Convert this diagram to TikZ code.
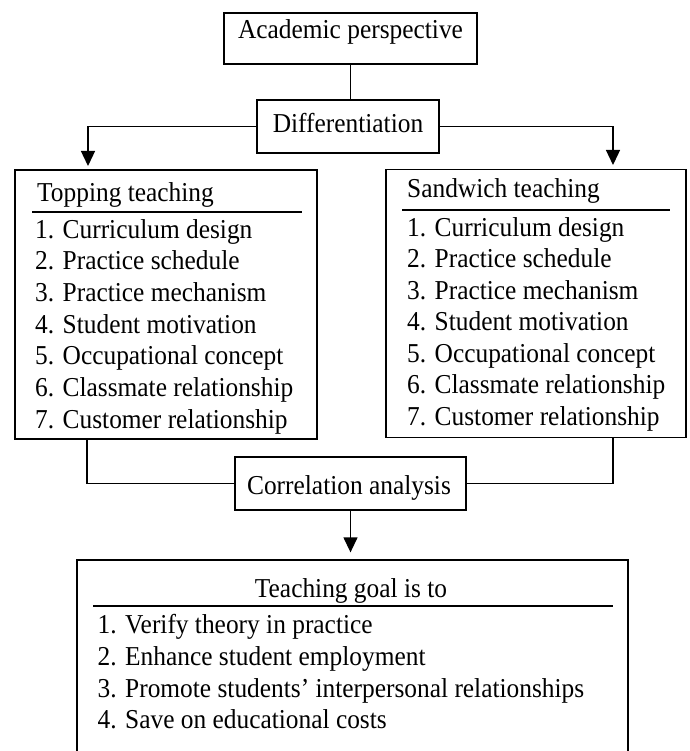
\documentclass[tikz,border=0pt]{standalone}
\usepackage{fontspec}
\setmainfont[FakeStretch=0.93]{Liberation Serif}
\usetikzlibrary{arrows.meta}
\begin{document}
\begin{tikzpicture}[x=1pt,y=-1pt,
  box/.style={draw, line width=1.3pt, rectangle, inner sep=0pt},
  txt/.style={anchor=base west, inner sep=0pt, font=\fontsize{27.3}{32}\selectfont},
  ctxt/.style={anchor=base, inner sep=0pt, font=\fontsize{27.3}{32}\selectfont},
  conn/.style={line width=1.3pt},
  arr/.style={line width=1.3pt, -{Triangle[length=15pt,width=14pt]}},
  rulel/.style={line width=1.3pt}]
\useasboundingbox (0,0) rectangle (689,751);
\clip (0,0) rectangle (689,751);
% boxes
\node[box, minimum width=253pt, minimum height=51pt] (acad) at (350.5,38.5) {};
\node[box, minimum width=182pt, minimum height=53pt] (diff) at (348,126.5) {};
\node[box, minimum width=302pt, minimum height=269pt] (top) at (166,304.5) {};
\node[box, minimum width=300pt, minimum height=268pt] (sand) at (536,303.5) {};
\node[box, minimum width=231pt, minimum height=53pt] (corr) at (350.5,483.5) {};
\node[box, minimum width=551pt, minimum height=210pt] (goal) at (352.5,665) {};
% box texts
\node[ctxt] (acadT) at (350.5,39) {Academic perspective};
\node[ctxt] (diffT) at (348,133) {Differentiation};
\node[ctxt] (corrT) at (349,494) {Correlation analysis};
% topping
\node[txt] (topT) at (37,201) {Topping teaching};
\coordinate (topUa) at (32,212); \coordinate (topUb) at (302,212);
\draw[rulel] (topUa) -- (topUb);
\node[txt] (t1) at (35,238) {1. Curriculum design};
\node[txt] (t2) at (35,269.7) {2. Practice schedule};
\node[txt] (t3) at (35,301.3) {3. Practice mechanism};
\node[txt] (t4) at (35,333) {4. Student motivation};
\node[txt] (t5) at (35,364.7) {5. Occupational concept};
\node[txt] (t6) at (35,396.3) {6. Classmate relationship};
\node[txt] (t7) at (35,428) {7. Customer relationship};
% sandwich
\node[txt] (sandT) at (407,198) {Sandwich teaching};
\coordinate (sandUa) at (402,210); \coordinate (sandUb) at (670,210);
\draw[rulel] (sandUa) -- (sandUb);
\node[txt] (s1) at (407,236) {1. Curriculum design};
\node[txt] (s2) at (407,267.5) {2. Practice schedule};
\node[txt] (s3) at (407,299) {3. Practice mechanism};
\node[txt] (s4) at (407,330.5) {4. Student motivation};
\node[txt] (s5) at (407,362) {5. Occupational concept};
\node[txt] (s6) at (407,393.5) {6. Classmate relationship};
\node[txt] (s7) at (407,425) {7. Customer relationship};
% goal
\node[ctxt] (goalT) at (351,597) {Teaching goal is to};
\coordinate (goalUa) at (93,606); \coordinate (goalUb) at (613,606);
\draw[rulel] (goalUa) -- (goalUb);
\node[txt] (g1) at (97.5,633) {1. Verify theory in practice};
\node[txt] (g2) at (97.5,665) {2. Enhance student employment};
\node[txt] (g3) at (97.5,697) {3. Promote students’ interpersonal relationships};
\node[txt] (g4) at (97.5,728) {4. Save on educational costs};
% connectors
\draw[conn] (acad.south) -- (acad.south |- diff.north);
\coordinate (tIn) at (88,170);
\coordinate (sIn) at (613,169);
\draw[arr, shorten >=4pt] (diff.west) -| (tIn);
\draw[arr, shorten >=4pt] (diff.east) -| (sIn);
\coordinate (tOut) at (87,439);
\coordinate (sOut) at (613,437.5);
\draw[conn] (tOut) |- (corr.west);
\draw[conn] (sOut) |- (corr.east);
\draw[arr, shorten >=7pt] (corr.south) -- (corr.south |- goal.north);
\end{tikzpicture}
\end{document}
